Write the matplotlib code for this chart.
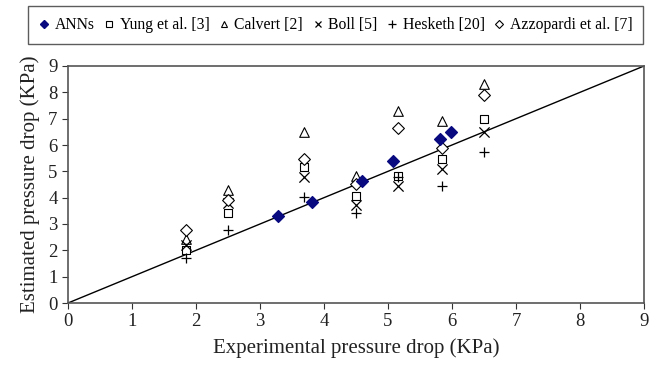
import matplotlib.pyplot as plt
from matplotlib.lines import Line2D

plt.rcParams['font.family'] = ['Liberation Serif', 'DejaVu Serif']

# experimental pressure drop (KPa) for each literature cluster
x_exp = [1.84, 2.50, 3.68, 4.50, 5.15, 5.85, 6.50]
yung = [2.03, 3.42, 5.17, 4.05, 4.81, 5.48, 6.97]
calvert = [2.43, 4.28, 6.49, 4.81, 7.29, 6.91, 8.33]
boll = [2.22, 3.78, 4.79, 3.71, 4.43, 5.07, 6.49]
hesketh = [1.71, 2.76, 4.03, 3.40, 4.78, 4.46, 5.74]
azzopardi = [2.79, 3.90, 5.45, 4.52, 6.63, 5.87, 7.89]

# ANN predictions
x_ann = [3.28, 3.81, 4.60, 5.08, 5.81, 5.98]
y_ann = [3.29, 3.84, 4.62, 5.38, 6.24, 6.49]

fig = plt.figure(figsize=(6.54, 3.69), dpi=100)
ax = fig.add_axes([68 / 654, 1 - 303 / 369, 576 / 654, 237 / 369])

ax.plot([0, 9], [0, 9], color='black', lw=1.0, zorder=1)

ms = 6
ax.scatter(x_exp, yung, marker='s', s=ms * 6, facecolors='white', edgecolors='black', linewidths=0.8, zorder=3)
ax.scatter(x_exp, calvert, marker='^', s=ms * 8, facecolors='white', edgecolors='black', linewidths=0.8, zorder=3)
ax.scatter(x_exp, boll, marker='x', s=ms * 9, color='black', linewidths=0.9, zorder=3)
ax.scatter(x_exp, hesketh, marker='+', s=ms * 10, color='black', linewidths=0.9, zorder=3)
ax.scatter(x_exp, azzopardi, marker='D', s=ms * 6, facecolors='white', edgecolors='black', linewidths=0.8, zorder=3)
ax.scatter(x_ann, y_ann, marker='D', s=ms * 6, color='#0a0a80', edgecolors='#0a0a80', zorder=4)

ax.set_xlim(0, 9)
ax.set_ylim(0, 9)
ax.set_xticks(range(10))
ax.set_yticks(range(10))
ax.tick_params(direction='out', length=4, width=0.8, labelsize=13.5, colors='#333333', labelcolor='#222222')
for s in ax.spines.values():
    s.set_color('#555555')
    s.set_linewidth(1.2)

ax.set_xlabel('Experimental pressure drop (KPa)', fontsize=15, color='#222222', labelpad=6)
ax.set_ylabel('Estimated pressure drop (KPa)', fontsize=15, color='#222222', labelpad=6)

handles = [
    Line2D([], [], ls='none', marker='D', ms=4, color='#0a0a80'),
    Line2D([], [], ls='none', marker='s', ms=4, mfc='white', mec='black', mew=0.8),
    Line2D([], [], ls='none', marker='^', ms=5, mfc='white', mec='black', mew=0.8),
    Line2D([], [], ls='none', marker='x', ms=5, color='black', mew=0.9),
    Line2D([], [], ls='none', marker='+', ms=6, color='black', mew=0.9),
    Line2D([], [], ls='none', marker='D', ms=4, mfc='white', mec='black', mew=0.8),
]
labels = ['ANNs', 'Yung et al. [3]', 'Calvert [2]', 'Boll [5]', 'Hesketh [20]', 'Azzopardi et al. [7]']
leg = fig.legend(handles, labels, loc='center', bbox_to_anchor=(335.5 / 654, 1 - 25 / 369), ncol=6,
                 fontsize=11.3, frameon=True, fancybox=False, edgecolor='#333333',
                 handlelength=0.7, handletextpad=0.3, columnspacing=0.6, borderpad=0.7,
                 borderaxespad=0.3)
leg.get_frame().set_linewidth(1.0)

fig.savefig('out.png', dpi=100)
